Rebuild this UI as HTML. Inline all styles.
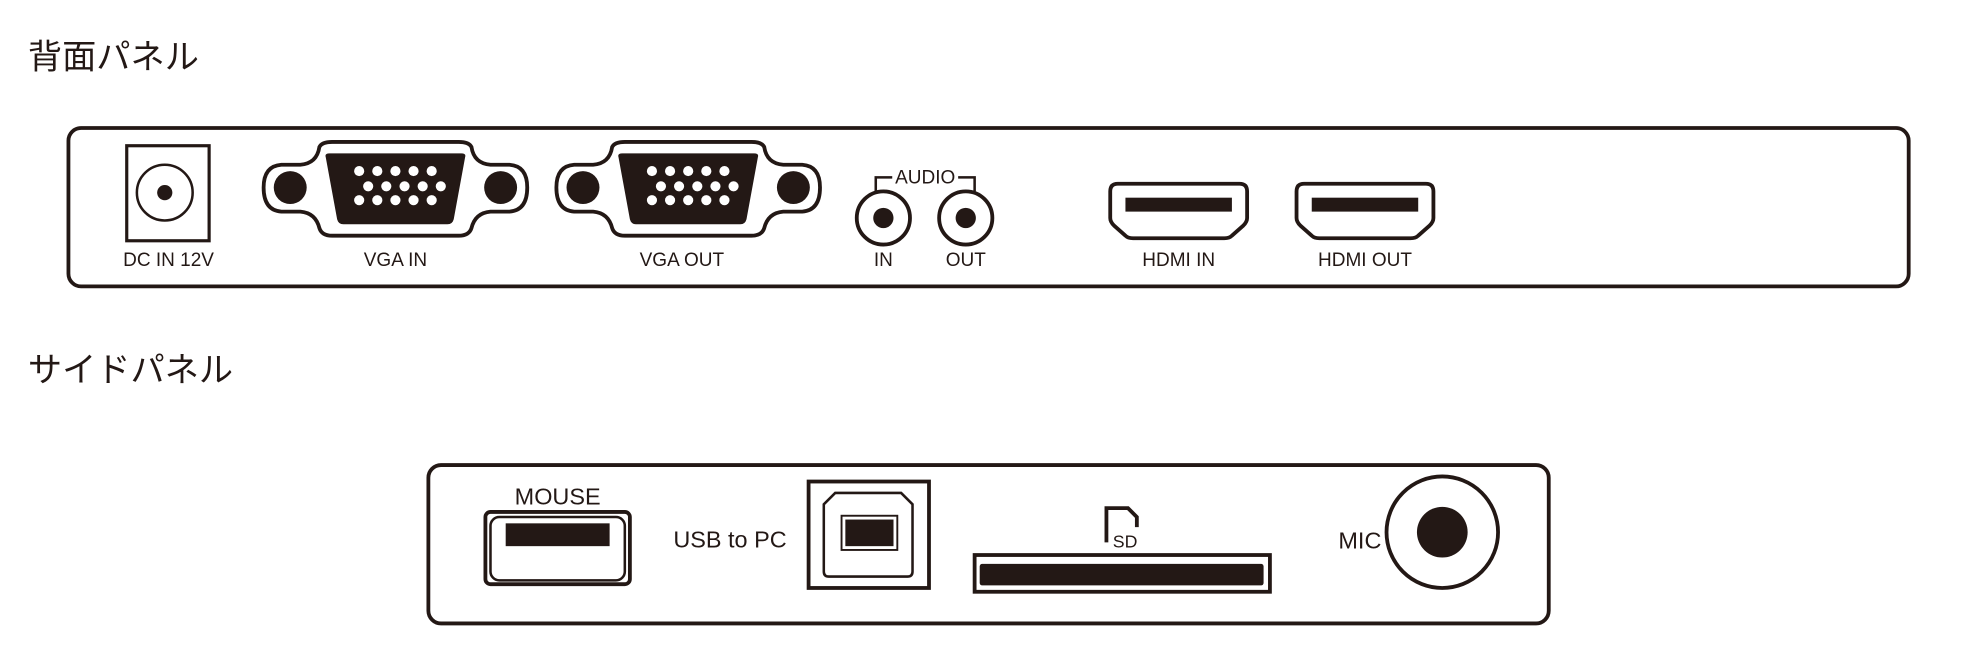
<!DOCTYPE html>
<html><head><meta charset="utf-8"><style>
html,body{margin:0;padding:0;background:#fff;}
svg{display:block}
text{font-family:"Liberation Sans","Noto Sans CJK JP",sans-serif;fill:#231815}
</style></head><body>
<svg width="1986" height="664" viewBox="0 0 1567 524" preserveAspectRatio="none" xmlns="http://www.w3.org/2000/svg">
<defs>
<g id="vga">
  <path d="M-60,-36 Q-62,-23 -75,-22 L-90,-22 Q-104,-21 -104,-4 Q-104,14 -90,15 L-75,15 Q-63,16 -60,28 Q-58,34 -50,34 L50,34 Q58,34 60,28 Q63,16 75,15 L90,15 Q104,14 104,-4 Q104,-21 90,-22 L75,-22 Q62,-23 60,-36 Q58,-40 50,-40 L-50,-40 Q-58,-40 -60,-36 Z" fill="#fff" stroke="#231815" stroke-width="3"/>
  <circle cx="-83" cy="-4" r="13" fill="#231815"/>
  <circle cx="83" cy="-4" r="13" fill="#231815"/>
  <path d="M-55,-28 Q-56,-31 -52,-31 L52,-31 Q56,-31 55,-28 L46,21 Q45,25 41,25 L-41,25 Q-45,25 -46,21 Z" fill="#231815"/>
  <g fill="#fff">
    <circle cx="-28.6" cy="-17" r="4"/><circle cx="-14.3" cy="-17" r="4"/><circle cx="0" cy="-17" r="4"/><circle cx="14.3" cy="-17" r="4"/><circle cx="28.6" cy="-17" r="4"/>
    <circle cx="-21.5" cy="-5" r="4"/><circle cx="-7.2" cy="-5" r="4"/><circle cx="7.2" cy="-5" r="4"/><circle cx="21.5" cy="-5" r="4"/><circle cx="35.8" cy="-5" r="4"/>
    <circle cx="-28.6" cy="6" r="4"/><circle cx="-14.3" cy="6" r="4"/><circle cx="0" cy="6" r="4"/><circle cx="14.3" cy="6" r="4"/><circle cx="28.6" cy="6" r="4"/>
  </g>
</g>
<g id="hdmi">
  <path d="M-48,-21 Q-54,-21 -54,-15 L-54,6 Q-54,9 -51,12 L-42,20 Q-40,22 -36,22 L36,22 Q40,22 42,20 L51,12 Q54,9 54,6 L54,-15 Q54,-21 48,-21 Z" fill="#fff" stroke="#231815" stroke-width="3"/>
  <rect x="-42" y="-10" width="84" height="11" fill="#231815"/>
</g>
</defs>

<text x="22" y="54" font-size="27">背面パネル</text>
<text x="22" y="301" font-size="27">サイドパネル</text>

<!-- rear panel -->
<rect x="54" y="101" width="1452" height="125" rx="10" fill="none" stroke="#231815" stroke-width="3"/>
<rect x="100" y="115" width="65" height="75" fill="none" stroke="#231815" stroke-width="2.5"/>
<circle cx="130" cy="152" r="22" fill="none" stroke="#231815" stroke-width="2"/>
<circle cx="130" cy="152" r="6" fill="#231815"/>
<text x="133" y="210" font-size="15" text-anchor="middle">DC IN 12V</text>

<use href="#vga" x="312" y="152"/>
<text x="312" y="210" font-size="15" text-anchor="middle">VGA IN</text>
<use href="#vga" x="543" y="152"/>
<text x="538" y="210" font-size="15" text-anchor="middle">VGA OUT</text>

<path d="M691,151 L691,140 L704,140 M756,140 L769,140 L769,151" fill="none" stroke="#231815" stroke-width="2"/>
<text x="730" y="145" font-size="15" text-anchor="middle">AUDIO</text>
<circle cx="697" cy="172" r="21" fill="none" stroke="#231815" stroke-width="3"/>
<circle cx="697" cy="172" r="8" fill="#231815"/>
<circle cx="762" cy="172" r="21" fill="none" stroke="#231815" stroke-width="3"/>
<circle cx="762" cy="172" r="8" fill="#231815"/>
<text x="697" y="210" font-size="15" text-anchor="middle">IN</text>
<text x="762" y="210" font-size="15" text-anchor="middle">OUT</text>

<use href="#hdmi" x="930" y="166"/>
<text x="930" y="210" font-size="15" text-anchor="middle">HDMI IN</text>
<use href="#hdmi" x="1077" y="166"/>
<text x="1077" y="210" font-size="15" text-anchor="middle">HDMI OUT</text>

<!-- side panel -->
<rect x="338" y="367" width="884" height="125" rx="10" fill="none" stroke="#231815" stroke-width="3"/>
<text x="440" y="398" font-size="18.5" text-anchor="middle">MOUSE</text>
<rect x="383" y="404" width="114" height="57" rx="4" fill="none" stroke="#231815" stroke-width="3"/>
<rect x="387" y="408" width="106" height="50" rx="7" fill="none" stroke="#231815" stroke-width="2"/>
<rect x="399" y="413" width="82" height="18" fill="#231815"/>
<text x="576" y="432" font-size="18.5" text-anchor="middle">USB to PC</text>
<rect x="638" y="380" width="95" height="84" fill="none" stroke="#231815" stroke-width="3"/>
<path d="M659,389 L711,389 L720,398 L720,451 Q720,455 716,455 L654,455 Q650,455 650,451 L650,398 Z" fill="none" stroke="#231815" stroke-width="2"/>
<rect x="664" y="407" width="44" height="27" fill="none" stroke="#231815" stroke-width="1.5"/>
<rect x="667" y="410" width="38" height="21" fill="#231815"/>

<path d="M873,428 L873,401 L890,401 L897,408 L897,416" fill="none" stroke="#231815" stroke-width="3"/>
<text x="878" y="432" font-size="14">SD</text>
<rect x="769" y="438" width="233" height="29" fill="none" stroke="#231815" stroke-width="3"/>
<rect x="773" y="445" width="224" height="17" rx="2" fill="#231815"/>

<text x="1073" y="433" font-size="18.5" text-anchor="middle">MIC</text>
<circle cx="1138" cy="420" r="44" fill="none" stroke="#231815" stroke-width="3"/>
<circle cx="1138" cy="420" r="20" fill="#231815"/>
</svg>
</body></html>
